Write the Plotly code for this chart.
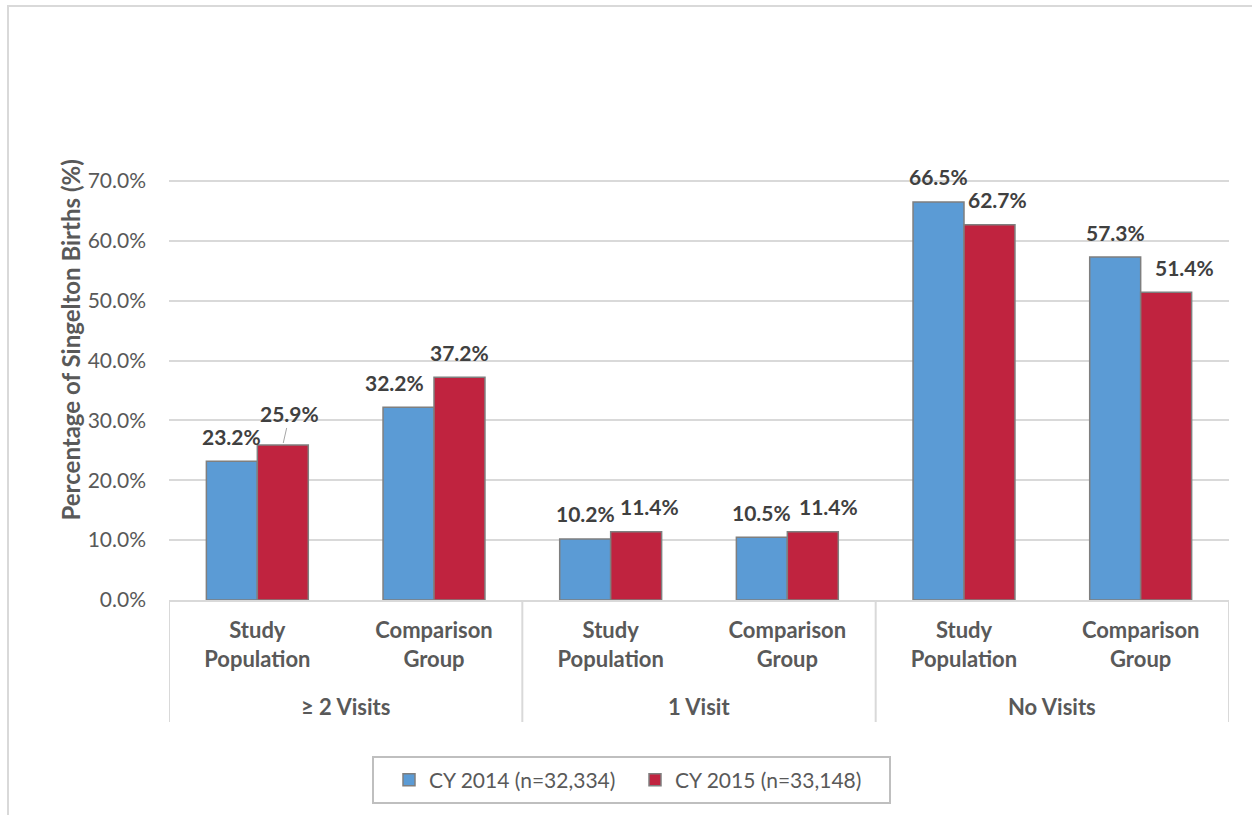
import plotly.graph_objects as go

# Prenatal visit categories (outer) and populations (inner)
visit_groups = ["≥ 2 Visits", "1 Visit", "No Visits"]
populations = ["Study<br>Population", "Comparison<br>Group"]

# Share of singleton births (%) by calendar year, ordered group by group
cy2014 = [23.2, 32.2, 10.2, 10.5, 66.5, 57.3]
cy2015 = [25.9, 37.2, 11.4, 11.4, 62.7, 51.4]
series_names = ["CY 2014 (n=32,334)", "CY 2015 (n=33,148)"]

y_ticks = [0, 10, 20, 30, 40, 50, 60, 70]
y_tick_text = [f"{v:.1f}%" for v in y_ticks]

# Category slots along the x axis
n_pop = len(populations)
slots = list(range(len(visit_groups) * n_pop))
slot_text = [f"<b>{populations[i % n_pop]}</b>" for i in slots]

# Figure geometry (pixels)
W, H = 1252, 815
ML, MR, MT, MB = 169, 23, 80, 215
PW, PH = W - ML - MR, H - MT - MB
Y_MAX = 86.87

BLUE = "#5B9BD5"
RED = "#C0233F"
OUTLINE = "#7F7F7F"
GRID = "#D9D9D9"
TXT = "#595959"
LBL = "#404040"
FONT = "Lato"


def px_x(p):
    return (p - ML) / PW


def px_y(p):
    return (H - MB - p) / PH


fig = go.Figure()
for name, vals, color in [(series_names[0], cy2014, BLUE), (series_names[1], cy2015, RED)]:
    fig.add_trace(go.Bar(
        x=slots, y=vals, name=name,
        marker=dict(color=color, line=dict(color=OUTLINE, width=1.5)),
    ))

# Value labels above each bar; a few are nudged sideways to stay readable
BAR_OFF = (1 - 0.423) / 4
nudge_2014 = [0, -14, 0, 0, 0, 0]
nudge_2015 = [7, 0, 13, 16, 8, 18]
label_font = dict(family=FONT, size=21, color=LBL)
annotations = []
for i, v14, v15 in zip(slots, cy2014, cy2015):
    annotations.append(dict(
        x=i - BAR_OFF, y=v14, xref="x", yref="y", text=f"<b>{v14:.1f}%</b>",
        showarrow=False, yshift=25, xshift=nudge_2014[i], font=label_font,
    ))
    if i == 0:
        annotations.append(dict(
            x=i + BAR_OFF, y=v15, xref="x", yref="y", text=f"<b>{v15:.1f}%</b>",
            showarrow=True, arrowhead=0, arrowwidth=1, arrowcolor="#A6A6A6",
            ax=nudge_2015[i], ay=-31, standoff=2, font=label_font,
        ))
    else:
        annotations.append(dict(
            x=i + BAR_OFF, y=v15, xref="x", yref="y", text=f"<b>{v15:.1f}%</b>",
            showarrow=False, yshift=25, xshift=nudge_2015[i], font=label_font,
        ))

# Outer category labels and the dividers that box them
shapes = []
for g, gname in enumerate(visit_groups):
    members = slots[g * n_pop:(g + 1) * n_pop]
    annotations.append(dict(
        x=sum(members) / len(members), y=px_y(706), xref="x", yref="paper",
        text=f"<b>{gname}</b>", showarrow=False, yanchor="middle",
        font=dict(family=FONT, size=22, color=TXT),
    ))
    for edge in ([members[0] - 0.5] if g == 0 else []) + [members[-1] + 0.5]:
        shapes.append(dict(
            type="line", xref="x", yref="paper", x0=edge, x1=edge,
            y0=px_y(722), y1=0, line=dict(color=GRID, width=2),
        ))

# Y axis title
annotations.append(dict(
    x=px_x(53), y=px_y(340), xref="paper", yref="paper",
    text="<b>Percentage of Singelton Births (%)</b>", textangle=-90,
    showarrow=False, font=dict(family=FONT, size=24, color=TXT),
))

# Chart frame and legend box
shapes.append(dict(
    type="rect", xref="paper", yref="paper",
    x0=px_x(8), x1=px_x(W + 20), y0=px_y(H + 20), y1=px_y(6),
    line=dict(color=GRID, width=2), fillcolor="rgba(0,0,0,0)", layer="below",
))
shapes.append(dict(
    type="rect", xref="paper", yref="paper",
    x0=px_x(373), x1=px_x(890), y0=px_y(803), y1=px_y(757),
    line=dict(color="#BFBFBF", width=2), fillcolor="rgba(0,0,0,0)",
))

fig.update_layout(
    width=W, height=H,
    margin=dict(l=ML, r=MR, t=MT, b=MB),
    paper_bgcolor="white", plot_bgcolor="white",
    barmode="group", bargap=0.423, bargroupgap=0,
    font=dict(family=FONT, size=20, color=TXT),
    annotations=annotations, shapes=shapes,
    legend=dict(
        orientation="h", x=px_x(389), y=px_y(780),
        xanchor="left", yanchor="middle",
        entrywidth=201, entrywidthmode="pixels",
        borderwidth=0, bgcolor="rgba(0,0,0,0)",
        font=dict(family=FONT, size=21, color=TXT),
    ),
)
fig.update_yaxes(
    range=[0, Y_MAX], tickvals=y_ticks, ticktext=y_tick_text,
    showgrid=True, gridcolor=GRID, gridwidth=1.5, zeroline=False,
    showline=False, ticklabelstandoff=22,
    tickfont=dict(family=FONT, size=21, color=TXT),
)
fig.update_xaxes(
    range=[slots[0] - 0.5, slots[-1] + 0.5],
    tickvals=slots, ticktext=slot_text,
    showgrid=False, zeroline=False,
    showline=True, linecolor=GRID, linewidth=2,
    ticks="", ticklabelstandoff=10,
    tickfont=dict(family=FONT, size=22, color=TXT),
)

fig.write_html("out.html")
